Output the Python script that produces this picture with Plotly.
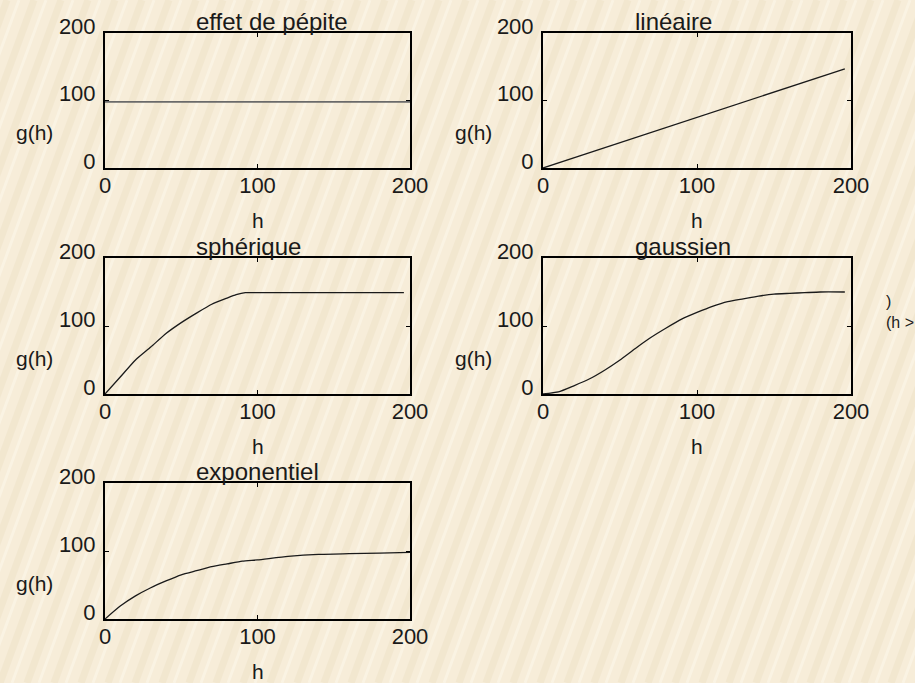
import plotly.graph_objects as go

# ---------------- data ----------------
titles = ["effet de pépite", "linéaire", "sphérique", "gaussien", "exponentiel"]
tick_vals = [0, 100, 200]
tick_text = ["0", "100", "200"]

h_pepite = [0, 200]
g_pepite = [98, 98]

h_lineaire = [0, 100, 196]
g_lineaire = [0, 75, 147]

h_spherique = [0, 10, 20, 30, 40, 50, 60, 70, 80, 86, 92, 100, 150, 196]
g_spherique = [0, 25, 50, 69, 89, 105, 119, 132, 141, 146, 149, 149, 149, 149]

h_gaussien = [0, 10, 20, 30, 40, 50, 60, 70, 80, 90, 100, 110, 120, 130, 140, 150, 160, 170, 180, 196]
g_gaussien = [0, 3, 12, 22, 35, 50, 67, 83, 97, 110, 120, 129, 136, 140, 144, 147, 148, 149, 150, 150]

h_expo = [0, 10, 20, 30, 40, 50, 60, 70, 80, 90, 100, 120, 140, 160, 180, 200]
g_expo = [0, 19, 34, 46, 56, 65, 71, 77, 81, 85, 87, 92, 95, 96, 97, 98]

series = [
    (h_pepite, g_pepite, "#6a6a6a", 1.8, "linear"),
    (h_lineaire, g_lineaire, "#1a1a1a", 1.3, "linear"),
    (h_spherique, g_spherique, "#1a1a1a", 1.3, "spline"),
    (h_gaussien, g_gaussien, "#1a1a1a", 1.3, "spline"),
    (h_expo, g_expo, "#1a1a1a", 1.3, "spline"),
]

# ---------------- layout geometry ----------------
W, H = 915, 683
col_px = [(105, 410), (543, 851)]
row_px = [(33, 168), (258, 394), (483, 619)]
cells = [(0, 0), (0, 1), (1, 0), (1, 1), (2, 0)]
glabel_x = [34, 473]

BG = "#F7EDD9"
FONT = "Liberation Sans, Arial, sans-serif"

fig = go.Figure()
annotations = []
shapes = []

# decorative diagonal stripes of the slide background
for k in range(-12, 40):
    x0 = k * 27
    shapes.append(dict(type="line", xref="paper", yref="paper",
                       x0=x0 / W, y0=0, x1=(x0 + 250) / W, y1=1,
                       line=dict(color="#E9DCBF", width=7), opacity=0.35, layer="below"))
    shapes.append(dict(type="line", xref="paper", yref="paper",
                       x0=(x0 + 12) / W, y0=0, x1=(x0 + 262) / W, y1=1,
                       line=dict(color="#FFFCF2", width=3), opacity=0.4, layer="below"))

for i, ((r, c), (hx, gy, col, lw, shp), title) in enumerate(zip(cells, series, titles)):
    n = i + 1
    xa = "x" if n == 1 else f"x{n}"
    ya = "y" if n == 1 else f"y{n}"
    x0p, x1p = col_px[c]
    y0p, y1p = row_px[r]
    fig.add_trace(go.Scatter(x=hx, y=gy, mode="lines", xaxis=xa, yaxis=ya,
                             line=dict(color=col, width=lw, shape=shp, smoothing=0.5),
                             showlegend=False, hoverinfo="skip"))
    common = dict(range=[0, 200], tickvals=tick_vals, ticktext=tick_text,
                  showline=True, linecolor="black", linewidth=2, mirror="ticks",
                  ticks="inside", ticklen=4, tickwidth=1, tickcolor="black",
                  showgrid=False, zeroline=False, fixedrange=True, automargin=False,
                  tickfont=dict(family=FONT, size=22, color="#1a1a1a"))
    fig.update_layout(**{
        ("xaxis" if n == 1 else f"xaxis{n}"): dict(
            domain=[x0p / W, x1p / W], anchor=ya, ticklabelstandoff=-3, **common),
        ("yaxis" if n == 1 else f"yaxis{n}"): dict(
            domain=[1 - y1p / H, 1 - y0p / H], anchor=xa,
            ticklabelshift=-7, ticklabelstandoff=3, **common),
    })
    # subplot title
    annotations.append(dict(text=title, xref=f"{xa} domain", yref=f"{ya} domain",
                            x=0.293, y=1, xanchor="left", yanchor="bottom", yshift=-4,
                            showarrow=False, font=dict(family=FONT, size=24, color="#1a1a1a")))
    # y axis label
    annotations.append(dict(text="g(h)", xref="paper", yref=f"{ya} domain",
                            x=glabel_x[c] / W, y=0.26, xanchor="center", yanchor="middle",
                            showarrow=False, font=dict(family=FONT, size=21, color="#1a1a1a")))
    # x axis label
    annotations.append(dict(text="h", xref=f"{xa} domain", yref=f"{ya} domain",
                            x=0.5, y=0, xanchor="center", yanchor="middle", yshift=-52,
                            showarrow=False, font=dict(family=FONT, size=21, color="#1a1a1a")))

# stray glyphs at the right edge of the slide
annotations.append(dict(text=")<br>(h &gt;", xref="paper", yref="paper",
                        x=884 / W, y=1 - 312 / H, xanchor="left", yanchor="middle",
                        showarrow=False, align="left",
                        font=dict(family=FONT, size=16, color="#1a1a1a")))

fig.update_layout(width=W, height=H, margin=dict(l=0, r=0, t=0, b=0, pad=0),
                  autosize=False,
                  paper_bgcolor=BG, plot_bgcolor="rgba(0,0,0,0)",
                  annotations=annotations, shapes=shapes, showlegend=False)

fig.write_html("out.html", config={"displayModeBar": False},
               post_script="document.body.style.margin='0';document.body.style.overflow='hidden';")
